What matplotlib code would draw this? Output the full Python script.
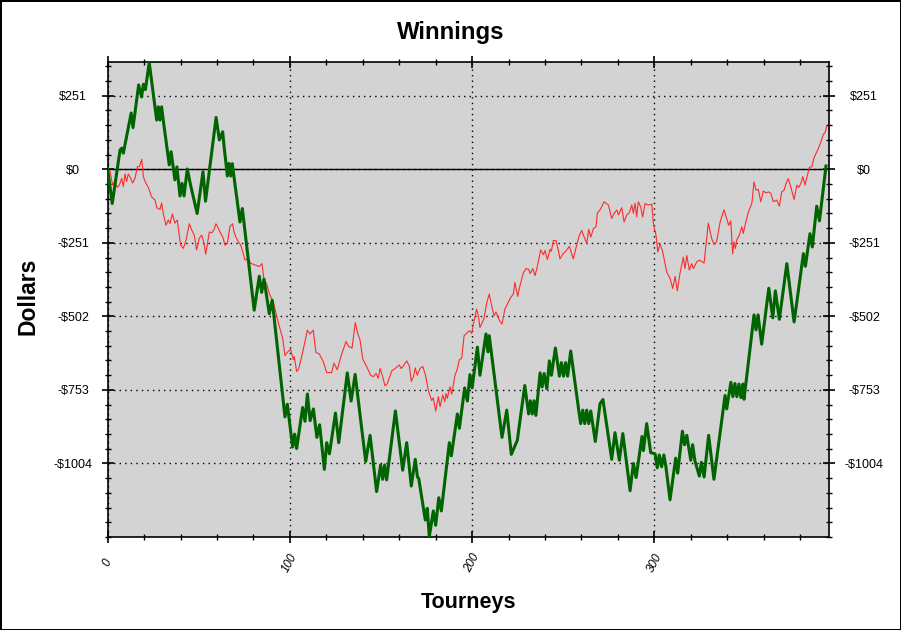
import matplotlib
matplotlib.use('Agg')
import matplotlib.pyplot as plt
from matplotlib.ticker import MultipleLocator

plt.rcParams['font.family'] = ['Liberation Sans', 'DejaVu Sans']

# green: cumulative winnings, vertices (tourney, dollars)
green_x = [0, 2.5, 6.8, 7.7, 8.6, 12.9, 13.9, 17.0, 18.6, 19.6, 20.7, 22.8, 26.9, 27.8, 28.7, 29.6,
           30.5, 33.8, 34.8, 36.9, 38.0, 39.7, 40.8, 41.9, 43.7, 45.5, 49.1, 52.3, 53.7, 59.5, 61.3,
           63.1, 63.9, 65.7, 66.6, 67.6, 68.4, 69.2, 72.6, 73.9, 80.4, 83.2, 84.5, 85.8, 88.7, 90.3,
           97.3, 98.6, 101.5, 102.6, 103.7, 107.0, 108.3, 109.6, 111.1, 112.9, 114.8, 116.3, 118.9,
           120.2, 121.7, 125.0, 126.8, 131.5, 133.6, 135.8, 141.6, 144.0, 147.6, 149.8, 150.9, 152.0,
           153.1, 157.9, 161.9, 164.1, 166.6, 168.8, 170.0, 170.7, 174.3, 175.4, 176.5, 178.7, 180.0,
           181.7, 183.1, 187.5, 188.6, 191.9, 193.0, 195.9, 197.4, 198.8, 200.0, 202.9, 204.3, 207.6,
           208.7, 209.4, 216.4, 219.0, 221.5, 224.8, 228.9, 231.0, 232.0, 233.0, 234.0, 235.0, 237.3,
           238.4, 239.5, 241.0, 242.4, 243.5, 245.7, 247.9, 249.0, 250.2, 251.3, 252.4, 254.1, 258.5,
           259.6, 260.7, 261.8, 262.9, 264.0, 265.1, 267.6, 270.2, 271.8, 276.6, 278.4, 280.8, 282.7,
           286.7, 288.5, 290.0, 293.2, 294.0, 295.8, 298.0, 300.4, 301.6, 302.7, 304.0, 305.2, 306.3,
           308.6, 311.7, 312.8, 315.4, 316.6, 317.8, 320.0, 321.0, 322.3, 324.7, 325.8, 327.3, 329.8,
           332.7, 338.8, 339.7, 342.0, 343.1, 344.2, 345.3, 346.4, 347.5, 348.6, 349.2, 354.7, 355.8,
           356.9, 358.9, 362.8, 365.0, 366.4, 368.6, 372.7, 376.7, 381.8, 382.9, 385.4, 386.7, 389.1,
           390.6, 394.2]
green_y = [0, -117, 66, 72, 55, 192, 142, 288, 247, 290, 272, 364, 168, 213, 168, 213,
           168, 15, 60, -36, 8, -91, -48, -91, 1, -54, -151, -8, -109, 177, 100,
           128, 77, -23, 20, -23, 19, -20, -180, -134, -481, -365, -420, -375, -493, -447,
           -845, -802, -948, -904, -953, -813, -860, -767, -858, -818, -915, -872, -1024,
           -933, -971, -832, -933, -695, -791, -700, -997, -908, -1100, -1009, -1058, -1009,
           -1060, -825, -1027, -933, -1081, -990, -1050, -1055, -1197, -1157, -1254, -1166, -1215,
           -1121, -1166, -933, -978, -835, -884, -746, -791, -701, -746, -607, -703, -562,
           -623, -568, -915, -822, -973, -925, -738, -835, -790, -835, -790, -840, -695,
           -743, -697, -749, -654, -703, -610, -706, -660, -706, -660, -706, -620, -822,
           -868, -822, -868, -822, -868, -825, -929, -800, -786, -990, -899, -993, -902,
           -1097, -1004, -1052, -912, -960, -868, -967, -971, -1019, -975, -1015, -975, -1013,
           -1128, -986, -1037, -894, -940, -908, -993, -940, -996, -1047, -1000, -1050, -908,
           -1058, -772, -818, -727, -776, -731, -776, -733, -779, -733, -785, -497, -548,
           -497, -597, -406, -507, -415, -512, -322, -521, -288, -331, -220, -265, -126,
           -176, 11]

# red: second series, vertices
red_x = [0, 1.3, 2.7, 4.0, 5.3, 6.4, 7.7, 8.6, 9.5, 10.4, 11.3, 12.2, 13.7, 15.0, 16.3, 17.4, 18.7,
         19.6, 21.0, 22.3, 24.1, 26.0, 26.9, 28.7, 29.6, 30.5, 32.0, 33.3, 34.2, 35.5, 36.9, 38.2,
         40.0, 41.5, 43.0, 44.8, 46.1, 47.5, 48.8, 50.3, 51.6, 52.9, 53.8, 55.8, 57.1, 58.3, 59.4,
         60.7, 61.6, 63.1, 64.4, 65.7, 67.1, 68.6, 69.3, 70.4, 71.7, 72.9, 74.1, 75.4, 77.2, 78.5,
         83.2, 84.7, 85.8, 87.2, 88.7, 90.9, 92.4, 93.1, 94.6, 96.0, 97.3, 98.2, 100.4, 101.9, 102.4,
         103.7, 104.8, 107.0, 109.6, 111.0, 112.8, 114.3, 116.1, 118.3, 120.2, 122.9, 124.2, 126.0,
         128.4, 130.8, 132.3, 134.1, 135.9, 137.2, 138.5, 140.0, 142.2, 144.3, 145.8, 147.3, 148.5,
         149.5, 150.9, 152.2, 153.5, 155.9, 157.7, 160.1, 161.0, 162.3, 164.1, 165.6, 166.6, 167.8,
         168.8, 169.9, 171.4, 172.9, 174.3, 176.0, 177.8, 178.7, 180.0, 181.5, 182.4, 183.9, 185.0,
         185.7, 186.4, 187.9, 188.8, 190.6, 191.9, 193.0, 194.3, 195.6, 197.0, 198.5, 199.8, 200.7,
         202.5, 203.4, 204.3, 206.5, 208.0, 209.4, 210.9, 212.0, 213.1, 215.0, 216.4, 218.0, 219.9,
         221.2, 222.6, 223.5, 225.0, 226.3, 228.1, 229.6, 231.1, 231.8, 233.3, 234.5, 235.8, 236.9,
         237.6, 239.1, 240.0, 241.3, 242.8, 243.5, 244.6, 246.0, 247.3, 248.2, 249.7, 251.9, 253.4,
         255.5, 257.4, 258.8, 260.2, 261.4, 262.9, 264.0, 265.1, 266.6, 268.0, 268.7, 270.2, 271.1,
         272.4, 274.8, 276.6, 278.0, 279.4, 280.3, 282.1, 283.4, 284.8, 286.3, 287.6, 288.5, 289.4,
         290.3, 291.2, 292.5, 293.6, 294.9, 296.7, 298.6, 299.5, 300.9, 301.9, 303.1, 304.6, 306.8,
         308.6, 310.1, 311.4, 312.6, 314.1, 315.9, 316.8, 317.8, 319.2, 320.5, 321.4, 323.3, 324.7,
         327.3, 329.6, 331.5, 332.8, 334.2, 336.1, 338.2, 339.7, 340.8, 341.9, 343.0, 343.7, 344.5,
         345.2, 346.6, 348.0, 348.8, 349.8, 351.6, 353.5, 354.7, 355.8, 357.1, 358.4, 359.8, 361.3,
         362.6, 363.9, 365.3, 367.2, 368.6, 369.9, 371.2, 372.3, 373.5, 374.8, 376.7, 378.2, 379.3,
         380.4, 381.5, 382.7, 384.0, 385.1, 386.4, 387.5, 388.8, 390.1, 391.4, 392.8, 393.7, 394.6]
red_y = [0, -8, -54, -42, -62, -54, -31, -59, -16, -42, -16, -25, -47, -31, 9, 9, 34,
         -26, -48, -62, -94, -105, -131, -137, -115, -150, -191, -173, -185, -152, -184, -173,
         -259, -270, -242, -186, -207, -225, -275, -235, -225, -253, -290, -214, -217, -207, -186,
         -201, -214, -230, -259, -253, -195, -186, -213, -232, -247, -258, -281, -310, -304, -321,
         -332, -322, -379, -390, -424, -454, -493, -510, -545, -576, -636, -627, -614, -650, -639,
         -690, -682, -625, -549, -562, -549, -625, -630, -656, -694, -694, -662, -684,
         -631, -588, -605, -610, -523, -560, -583, -648, -674, -703, -708, -697, -713,
         -680, -708, -739, -731, -688, -680, -668, -680, -671, -654, -673, -724, -708,
         -678, -703, -680, -673, -700, -755, -789, -780, -825, -776, -810, -770, -793,
         -765, -782, -742, -768, -703, -681, -650, -645, -568, -560, -551, -560, -527,
         -477, -500, -540, -510, -456, -426, -470, -500, -487, -516, -528, -477, -453,
         -437, -426, -386, -434, -396, -354, -339, -342, -356, -339, -363, -332, -298,
         -275, -292, -277, -308, -273, -280, -243, -243, -276, -306, -290, -276, -263,
         -306, -259, -226, -209, -230, -252, -205, -232, -202, -196, -150, -138, -128,
         -111, -122, -168, -150, -139, -156, -131, -180, -156, -148, -122, -150, -116,
         -162, -111, -128, -163, -117, -122, -119, -186, -225, -282, -254, -282, -351,
         -372, -407, -366, -415, -354, -300, -339, -294, -344, -322, -339, -316, -310,
         -320, -184, -237, -257, -247, -180, -138, -168, -191, -176, -289, -247, -270,
         -241, -225, -196, -219, -191, -146, -116, -43, -71, -69, -111, -74, -81,
         -77, -82, -111, -105, -126, -77, -71, -48, -32, -59, -103, -54, -62,
         -48, -25, -54, -20, 7, 8, 37, 55, 72, 94, 120, 125, 147]

y_ticks = [-1004, -753, -502, -251, 0, 251]
y_labels = ['-$1004', '-$753', '-$502', '-$251', '$0', '$251']
x_ticks = [0, 100, 200, 300]

fig = plt.figure(figsize=(9.01, 6.3), dpi=100, edgecolor='black', linewidth=2)
ax = fig.add_axes([0.1195, 0.1476, 0.8009, 0.7544])
ax.set_facecolor('#d3d3d3')

ax.plot(red_x, red_y, color='#ff2b2b', lw=0.8, zorder=3)
ax.plot(green_x, green_y, color='#006400', lw=2.2, zorder=4)
ax.axhline(0, color='black', lw=1, zorder=2)

ax.set_xlim(0, 396)
ax.set_ylim(-1255, 367)

ax.set_xticks(x_ticks)
ax.xaxis.set_minor_locator(MultipleLocator(20))
ax.set_yticks(y_ticks)
ax.set_yticklabels(y_labels)
ax.yaxis.set_minor_locator(MultipleLocator(50.2))

ax.grid(True, which='major', color='black', linestyle=(0, (1, 3)), linewidth=1)

ax.tick_params(axis='both', which='both', top=True, right=True, labelright=True, colors='black')
ax.tick_params(axis='y', which='major', direction='inout', length=8.6, width=1.2, pad=20.7, labelsize=9)
ax.tick_params(axis='y', which='minor', direction='inout', length=5, width=1)
ax.tick_params(axis='x', which='major', direction='inout', length=8.6, width=1.2, pad=14.5,
               labelsize=8.5, labelrotation=62)
ax.tick_params(axis='x', which='minor', direction='inout', length=5, width=1)

for t in ax.yaxis.get_major_ticks():
    t.label1.set_horizontalalignment('center')
    t.label2.set_horizontalalignment('center')
for lbl in ax.get_xticklabels():
    lbl.set_verticalalignment('center')
    lbl.set_horizontalalignment('center')
    lbl.set_style('italic')

for sp in ax.spines.values():
    sp.set_linewidth(1.2)

fig.text(0.5, 1 - 39.5 / 630, 'Winnings', ha='center', va='baseline', fontsize=17.3, fontweight='bold')
fig.text(468.5 / 901, 1 - 608 / 630, 'Tourneys', ha='center', va='baseline', fontsize=15.5, fontweight='bold')
fig.text(28 / 901, 1 - 296 / 630, 'Dollars', ha='center', va='center', rotation=90,
         fontsize=16.5, fontweight='bold')

fig.savefig('out.png', dpi=100)
